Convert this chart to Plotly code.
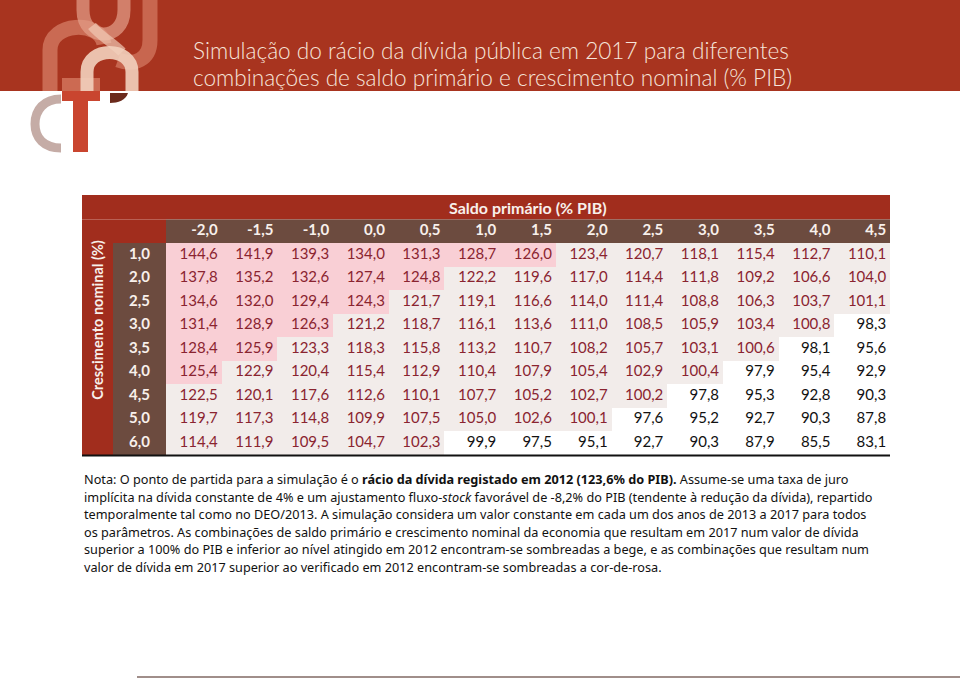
import plotly.graph_objects as go

# ---------------- data ----------------
saldo_labels = ["-2,0", "-1,5", "-1,0", "0,0", "0,5", "1,0", "1,5", "2,0", "2,5", "3,0", "3,5", "4,0", "4,5"]
growth_labels = ["1,0", "2,0", "2,5", "3,0", "3,5", "4,0", "4,5", "5,0", "6,0"]

row_1_0 = [144.6, 141.9, 139.3, 134.0, 131.3, 128.7, 126.0, 123.4, 120.7, 118.1, 115.4, 112.7, 110.1]
row_2_0 = [137.8, 135.2, 132.6, 127.4, 124.8, 122.2, 119.6, 117.0, 114.4, 111.8, 109.2, 106.6, 104.0]
row_2_5 = [134.6, 132.0, 129.4, 124.3, 121.7, 119.1, 116.6, 114.0, 111.4, 108.8, 106.3, 103.7, 101.1]
row_3_0 = [131.4, 128.9, 126.3, 121.2, 118.7, 116.1, 113.6, 111.0, 108.5, 105.9, 103.4, 100.8, 98.3]
row_3_5 = [128.4, 125.9, 123.3, 118.3, 115.8, 113.2, 110.7, 108.2, 105.7, 103.1, 100.6, 98.1, 95.6]
row_4_0 = [125.4, 122.9, 120.4, 115.4, 112.9, 110.4, 107.9, 105.4, 102.9, 100.4, 97.9, 95.4, 92.9]
row_4_5 = [122.5, 120.1, 117.6, 112.6, 110.1, 107.7, 105.2, 102.7, 100.2, 97.8, 95.3, 92.8, 90.3]
row_5_0 = [119.7, 117.3, 114.8, 109.9, 107.5, 105.0, 102.6, 100.1, 97.6, 95.2, 92.7, 90.3, 87.8]
row_6_0 = [114.4, 111.9, 109.5, 104.7, 102.3, 99.9, 97.5, 95.1, 92.7, 90.3, 87.9, 85.5, 83.1]
rows = [row_1_0, row_2_0, row_2_5, row_3_0, row_3_5, row_4_0, row_4_5, row_5_0, row_6_0]

debt_2012 = 123.6
debt_limit = 100.0

title_lines = [
    "Simulação do rácio da dívida pública em 2017 para diferentes",
    "combinações de saldo primário e crescimento nominal (% PIB)",
]
col_title = "Saldo primário (% PIB)"
row_title = "Crescimento nominal (%)"
note_lines = [
    "Nota: O ponto de partida para a simulação é o <b>rácio da dívida registado em 2012 (123,6% do PIB).</b> Assume-se uma taxa de juro",
    "implícita na dívida constante de 4% e um ajustamento fluxo-<i>stock</i> favorável de -8,2% do PIB (tendente à redução da dívida), repartido",
    "temporalmente tal como no DEO/2013. A simulação considera um valor constante em cada um dos anos de 2013 a 2017 para todos",
    "os parâmetros. As combinações de saldo primário e crescimento nominal da economia que resultam em 2017 num valor de dívida",
    "superior a 100% do PIB e inferior ao nível atingido em 2012 encontram-se sombreadas a bege, e as combinações que resultam num",
    "valor de dívida em 2017 superior ao verificado em 2012 encontram-se sombreadas a cor-de-rosa.",
]

# ---------------- styling ----------------
W, H = 960, 681
COLW = (890 - 166) / len(saldo_labels)
ROWH = (455 - 243) / len(growth_labels)
PINK = "#F9CFD5"
BEIGE = "#F2ECEA"
RED_BAND = "#A8341F"
RED_TAB = "#A12D1D"
BROWN = "#6C4B3F"
TXT_RED = "#8A2430"
HEAD_TXT = "#F8F0EB"
NUM_FONT = "Lato"

ncol, nrow = len(saldo_labels), len(growth_labels)
xs = list(range(ncol))
ys = list(range(nrow))

def cat(v):
    if v > debt_2012:
        return 2
    if v >= debt_limit:
        return 1
    return 0

z = [[cat(v) for v in r] for r in rows]
fmt = lambda v: f"{v:.1f}".replace(".", ",")

fig = go.Figure()

fig.add_trace(go.Heatmap(
    x=xs, y=ys, z=z, zmin=0, zmax=2,
    colorscale=[[0, "#FFFFFF"], [0.25, "#FFFFFF"], [0.25, BEIGE], [0.75, BEIGE], [0.75, PINK], [1, PINK]],
    showscale=False, hoverinfo="skip", xgap=0, ygap=0,
))

# cell texts (right aligned)
tx, ty, tt, tc = [], [], [], []
for i, r in enumerate(rows):
    for j, v in enumerate(r):
        tx.append(j + 0.43)
        ty.append(i)
        tt.append(fmt(v))
        tc.append(TXT_RED if cat(v) > 0 else "#111111")
fig.add_trace(go.Scatter(
    x=tx, y=ty, text=tt, mode="text", textposition="middle left",
    textfont=dict(family=NUM_FONT, size=15, color=tc), hoverinfo="skip", showlegend=False,
))

# column headers
fig.add_trace(go.Scatter(
    x=[j + 0.43 for j in xs], y=[-1] * ncol, text=[f"<b>{s}</b>" for s in saldo_labels],
    mode="text", textposition="middle left",
    textfont=dict(family=NUM_FONT, size=15, color=HEAD_TXT), hoverinfo="skip", showlegend=False,
))

XL = -0.5 - (166 - 82) / COLW
XRH = -0.5 - (166 - 113) / COLW
YT = -0.5 - (243 - 195) / ROWH
XEND = ncol - 0.5
YEND = nrow - 0.5

# row headers
fig.add_trace(go.Scatter(
    x=[(XRH - 0.5) / 2] * nrow, y=ys, text=[f"<b>{s}</b>" for s in growth_labels],
    mode="text", textposition="middle center",
    textfont=dict(family=NUM_FONT, size=15, color=HEAD_TXT), hoverinfo="skip", showlegend=False,
))

shapes = []
def rect(x0, x1, y0, y1, color, ref=("x", "y")):
    shapes.append(dict(type="rect", xref=ref[0], yref=ref[1], x0=x0, x1=x1, y0=y0, y1=y1,
                       fillcolor=color, line=dict(width=0), layer="below"))

rect(XL, XEND, YT, -1.5, RED_TAB)
rect(XL, XRH, -1.5, YEND, RED_TAB)
rect(XRH, -0.5, -1.5, -0.5, RED_TAB)
rect(-0.5, XEND, -1.5, -0.5, BROWN)
rect(XRH, -0.5, -0.5, YEND, BROWN)
shapes.append(dict(type="line", xref="x", yref="y", x0=XL, x1=XEND, y0=YEND + 0.02, y1=YEND + 0.02,
                   line=dict(color="#111111", width=2)))

# ---- page decorations (pixel axes x2/y2) ----
P = ("x2", "y2")
rect(0, W, 0, 91, RED_BAND, P)
shapes.append(dict(type="line", xref="x2", yref="y2", x0=137, x1=W, y0=677, y1=677,
                   line=dict(color="#A08E8A", width=2)))

def path(d, color, width, fill=None):
    s = dict(type="path", xref="x2", yref="y2", path=d, line=dict(color=color, width=width))
    if fill:
        s["fillcolor"] = fill
        s["line"] = dict(width=0)
    shapes.append(s)

# logo (approximation)
path("M 50 91 L 50 50 C 50 22, 100 20, 104 44", "rgba(210,120,96,0.8)", 15)
path("M 83 0 L 83 10 C 83 42, 124 42, 124 10 L 124 0", "rgba(228,160,138,0.7)", 13)
path("M 150 0 L 150 40 C 150 60, 134 66, 118 60", "rgba(206,112,88,0.85)", 15)
path("M 92 26 C 100 36, 112 42, 122 52", "rgba(240,200,180,0.7)", 10)
path("M 87 91 L 87 72 C 87 46, 132 46, 132 72 L 132 91", "rgba(242,208,188,0.9)", 13)
rect(62, 100, 78, 91, "#CC6A52", P)
rect(62, 100, 91, 101, "#C9452F", P)
rect(73, 88, 91, 152, "#C9452F", P)
path("M 110 93 L 128 93 C 126 100, 118 103, 110 103 Z", None, 0, fill="#6B2A1C")
path("M 61 99 C 44 99, 35 110, 35 124 C 35 138, 44 148, 61 148", "#C5ACA6", 9)

annotations = []
for k, t in enumerate(title_lines):
    annotations.append(dict(xref="paper", yref="paper", x=191 / W, y=1 - (50 + 27 * k) / H,
                            xanchor="left", yanchor="middle", showarrow=False, text=t,
                            font=dict(family="Lato", size=22.6, color="#F6E4DA", weight=300)))
annotations.append(dict(xref="x", yref="y", x=(ncol - 1) / 2, y=(YT - 1.5) / 2, showarrow=False,
                        text=f"<b>{col_title}</b>", xanchor="center", yanchor="middle",
                        font=dict(family=NUM_FONT, size=16, color=HEAD_TXT)))
annotations.append(dict(xref="x", yref="y", x=(XL + XRH) / 2, y=(YT + YEND) / 2 - 0.2, showarrow=False,
                        text=f"<b>{row_title}</b>", textangle=-90, xanchor="center", yanchor="middle",
                        font=dict(family=NUM_FONT, size=14.5, color=HEAD_TXT)))
for k, t in enumerate(note_lines):
    annotations.append(dict(xref="paper", yref="paper", x=82 / W, y=1 - (479 + 17.6 * k) / H,
                            xanchor="left", yanchor="middle", showarrow=False, text=t,
                            font=dict(family="Noto Sans", size=12.7, color="#111111")))

x0 = -0.5 - 166 / COLW
y0 = -0.5 - 243 / ROWH
fig.update_layout(
    width=W, height=H, margin=dict(l=0, r=0, t=0, b=0, pad=0),
    paper_bgcolor="white", plot_bgcolor="rgba(0,0,0,0)", showlegend=False,
    xaxis=dict(range=[x0, x0 + W / COLW], visible=False, domain=[0, 1], fixedrange=True),
    yaxis=dict(range=[y0 + H / ROWH, y0], visible=False, domain=[0, 1], fixedrange=True),
    xaxis2=dict(range=[0, W], visible=False, domain=[0, 1], anchor="y2", overlaying="x"),
    yaxis2=dict(range=[H, 0], visible=False, domain=[0, 1], anchor="x2", overlaying="y"),
    shapes=shapes, annotations=annotations,
)

fig.write_html("out.html", post_script="document.body.style.margin='0px';",
               config={"displayModeBar": False})
